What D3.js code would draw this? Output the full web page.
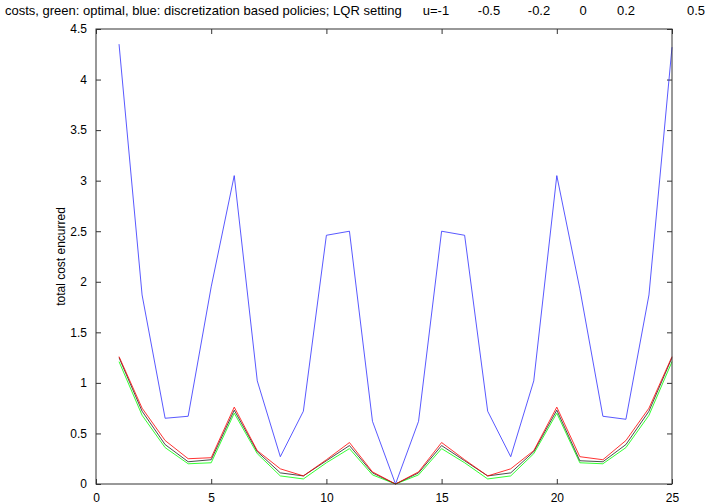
<!DOCTYPE html>
<meta charset="utf-8">
<style>
  body { margin: 0; background: #fff; }
  svg text { font-family: Arial, "Liberation Sans", sans-serif; font-size: 12px; fill: #000; }
  .title { font-size: 13px; }
  .axis .domain { display: none; }
  .axis .tick line { stroke: #333; }
  .line { fill: none; stroke-width: 1; }
</style>
<svg width="712" height="504"></svg>
<script src="https://cdn.jsdelivr.net/npm/d3@7"></script>
<script>
  // cost per starting state, x = 1..25
  var states = d3.range(1, 26);
  var blueCost = [4.35, 1.87, 0.65, 0.67, 1.95, 3.05, 1.02, 0.27, 0.72, 2.46, 2.50, 0.62, 0.0,
                  0.62, 2.50, 2.46, 0.72, 0.27, 1.02, 3.05, 1.93, 0.67, 0.64, 1.87, 4.32];
  var redCost = [1.26, 0.75, 0.43, 0.25, 0.26, 0.76, 0.33, 0.15, 0.08, 0.24, 0.41, 0.12, 0.0,
                 0.12, 0.41, 0.24, 0.08, 0.15, 0.33, 0.76, 0.27, 0.24, 0.43, 0.75, 1.26];
  var blackCost = [1.25, 0.72, 0.39, 0.22, 0.24, 0.73, 0.32, 0.11, 0.08, 0.23, 0.38, 0.11, 0.0,
                   0.11, 0.38, 0.23, 0.08, 0.11, 0.32, 0.73, 0.23, 0.22, 0.39, 0.72, 1.25];
  var greenCost = [1.21, 0.68, 0.36, 0.20, 0.21, 0.70, 0.30, 0.08, 0.05, 0.21, 0.35, 0.09, 0.0,
                   0.09, 0.35, 0.21, 0.05, 0.08, 0.30, 0.70, 0.21, 0.20, 0.36, 0.68, 1.21];
  var xTicks = [0, 5, 10, 15, 20, 25];
  var yTicks = d3.range(0, 4.51, 0.5);
  var titleText = "costs, green: optimal, blue: discretization based policies; LQR setting";
  var uLabels = ["u=-1", "-0.5", "-0.2", "0", "0.2", "0.5"];
  var uPos = [436, 489, 539, 583, 626, 696];

  var svg = d3.select("svg");
  var margin = {top: 29, right: 40, bottom: 20, left: 96};
  var width = 672 - margin.left;
  var height = 484 - margin.top;
  var g = svg.append("g").attr("transform", "translate(" + margin.left + "," + margin.top + ")");

  var x = d3.scaleLinear().domain([0, 25]).range([0, width]);
  var y = d3.scaleLinear().domain([0, 4.5]).range([height, 0]);

  // bottom/top ticks point inward, matlab style
  g.append("g")
    .attr("class", "axis")
    .attr("transform", "translate(0," + height + ")")
    .call(d3.axisBottom(x).tickValues(xTicks).tickSize(-5).tickPadding(9).tickFormat(d3.format("d")));
  g.append("g")
    .attr("class", "axis")
    .call(d3.axisTop(x).tickValues(xTicks).tickSize(-5).tickFormat(""));
  g.append("g")
    .attr("class", "axis")
    .call(d3.axisLeft(y).tickValues(yTicks).tickSize(-5).tickPadding(9).tickFormat(d3.format("")));
  g.append("g")
    .attr("class", "axis")
    .attr("transform", "translate(" + width + ",0)")
    .call(d3.axisRight(y).tickValues(yTicks).tickSize(-5).tickFormat(""));

  var line = d3.line()
    .x(function(d, i) { return x(states[i]); })
    .y(function(d) { return y(d); });

  var series = [
    {values: blueCost, color: "#3030ff"},
    {values: greenCost, color: "#00ff00"},
    {values: blackCost, color: "#000000"},
    {values: redCost, color: "#ff0000"}
  ];
  g.selectAll(".line")
    .data(series)
    .enter().append("path")
    .attr("class", "line")
    .attr("stroke", function(d) { return d.color; })
    .attr("stroke-opacity", function(d) { return d.color == "#000000" ? 0.7 : 0.8; })
    .attr("d", function(d) { return line(d.values); });

  g.append("rect")
    .attr("width", width)
    .attr("height", height)
    .attr("fill", "none")
    .attr("stroke", "#333");

  g.append("text")
    .attr("transform", "translate(-31," + height / 2 + ") rotate(-90)")
    .attr("text-anchor", "middle")
    .text("total cost encurred");

  svg.append("text")
    .attr("class", "title")
    .attr("x", 5)
    .attr("y", 15)
    .text(titleText);
  svg.selectAll(".ulab")
    .data(uLabels)
    .enter().append("text")
    .attr("class", "title ulab")
    .attr("x", function(d, i) { return uPos[i]; })
    .attr("y", 15)
    .attr("text-anchor", "middle")
    .text(function(d) { return d; });
</script>
